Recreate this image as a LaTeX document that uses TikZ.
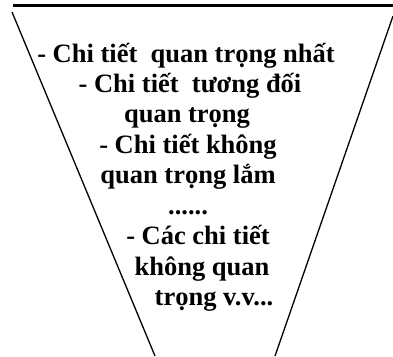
\documentclass[tikz,border=0pt]{standalone}
\usepackage{fontspec}
\setmainfont{Liberation Serif}
\begin{document}
\begin{tikzpicture}[x=1pt,y=-1pt,
  txt/.style={font=\bfseries\fontsize{26.5}{30.5}\selectfont, anchor=base, inner sep=0pt},
  side/.style={line width=1.3pt},
  topline/.style={line width=3pt}]
\useasboundingbox (0,0) rectangle (393,356);
\coordinate (tl) at (13,5.5);
\coordinate (tr) at (393,5.5);
\coordinate (lt) at (12,12);
\coordinate (lb) at (155,356);
\coordinate (rt) at (393,16);
\coordinate (rb) at (275,356);
\draw[topline] (tl) -- (tr);
\draw[side] (lt) -- (lb);
\draw[side] (rt) -- (rb);
\node[txt] (l1) at (186,62) {- Chi tiết\ \ quan trọng nhất};
\node[txt] (l2) at (190,92) {- Chi tiết\ \ tương đối};
\node[txt] (l3) at (187,122) {quan trọng};
\node[txt] (l4) at (188,153) {- Chi tiết không};
\node[txt] (l5) at (188,183) {quan trọng lắm};
\node[txt] (l6) at (188,214) {......};
\node[txt] (l7) at (198,244) {- Các chi tiết};
\node[txt] (l8) at (202,275) {không quan};
\node[txt] (l9) at (214,305) {trọng v.v...};
\end{tikzpicture}
\end{document}
